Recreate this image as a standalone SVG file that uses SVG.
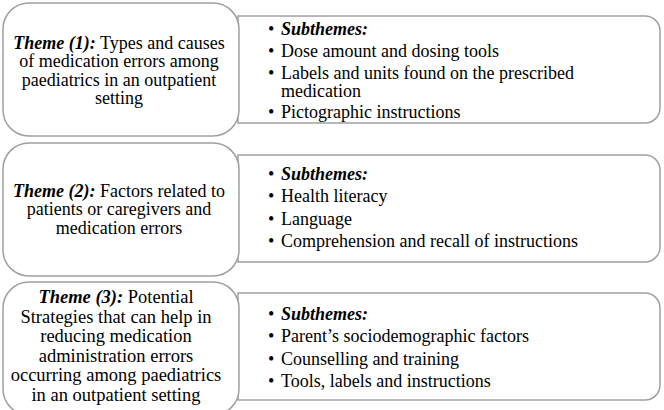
<svg xmlns="http://www.w3.org/2000/svg" width="664" height="410" viewBox="0 0 664 410">
<style>
.box{fill:#fff;stroke:#a0a0a0;stroke-width:1.5}
text{font-family:"Liberation Serif","Times New Roman",serif;fill:#000}
.th{font-size:18px;text-anchor:middle}
.th3{font-size:18.5px;text-anchor:middle}
.st{font-size:18px}
.b{font-weight:bold;font-style:italic}
</style>
<rect width="664" height="410" fill="#fff"/>
<g id="sub1">
<path class="box" d="M238,16 H645 A15,15 0 0 1 660,31 V108 A15,15 0 0 1 645,123 H238 Z"/>
<text class="st" x="268"><tspan y="35">•</tspan><tspan y="57" x="268">•</tspan><tspan y="79" x="268">•</tspan><tspan y="118" x="268">•</tspan></text>
<text class="st b" x="281" y="35">Subthemes:</text>
<text class="st" x="281" y="57">Dose amount and dosing tools</text>
<text class="st" x="281" y="79">Labels and units found on the prescribed<tspan x="281" y="97">medication</tspan></text>
<text class="st" x="281" y="118">Pictographic instructions</text>
</g>
<g id="sub2">
<path class="box" d="M238,155 H645 A15,15 0 0 1 660,170 V247 A15,15 0 0 1 645,262 H238 Z"/>
<text class="st" x="268"><tspan y="180">•</tspan><tspan y="202.3" x="268">•</tspan><tspan y="224.6" x="268">•</tspan><tspan y="247" x="268">•</tspan></text>
<text class="st b" x="281" y="180">Subthemes:</text>
<text class="st" x="281" y="202.3">Health literacy</text>
<text class="st" x="281" y="224.6">Language</text>
<text class="st" x="281" y="247">Comprehension and recall of instructions</text>
</g>
<g id="sub3">
<path class="box" d="M238,293 H645 A15,15 0 0 1 660,308 V385 A15,15 0 0 1 645,400 H238 Z"/>
<text class="st" x="268"><tspan y="320">•</tspan><tspan y="342.3" x="268">•</tspan><tspan y="364.6" x="268">•</tspan><tspan y="387" x="268">•</tspan></text>
<text class="st b" x="281" y="320">Subthemes:</text>
<text class="st" x="281" y="342.3">Parent’s sociodemographic factors</text>
<text class="st" x="281" y="364.6">Counselling and training</text>
<text class="st" x="281" y="387">Tools, labels and instructions</text>
</g>
<g id="theme1">
<rect class="box" x="3" y="3" width="236" height="133" rx="26"/>
<text class="th" x="119" y="48.5"><tspan class="b">Theme (1):</tspan> Types and causes<tspan x="119" y="67">of medication errors among</tspan><tspan x="119" y="85.5">paediatrics in an outpatient</tspan><tspan x="119" y="104">setting</tspan></text>
</g>
<g id="theme2">
<rect class="box" x="3" y="143" width="236" height="133" rx="26"/>
<text class="th" x="119" y="196.5"><tspan class="b">Theme (2):</tspan> Factors related to<tspan x="119" y="215">patients or caregivers and</tspan><tspan x="119" y="233.5">medication errors</tspan></text>
</g>
<g id="theme3">
<rect class="box" x="3" y="282" width="236" height="133" rx="26"/>
<text class="th3" x="116" y="303"><tspan class="b">Theme (3):</tspan> Potential<tspan x="116" y="322.5">Strategies that can help in</tspan><tspan x="116" y="342">reducing medication</tspan><tspan x="116" y="361.5">administration errors</tspan><tspan x="116" y="381">occurring among paediatrics</tspan><tspan x="116" y="400.5">in an outpatient setting</tspan></text>
</g>
</svg>
